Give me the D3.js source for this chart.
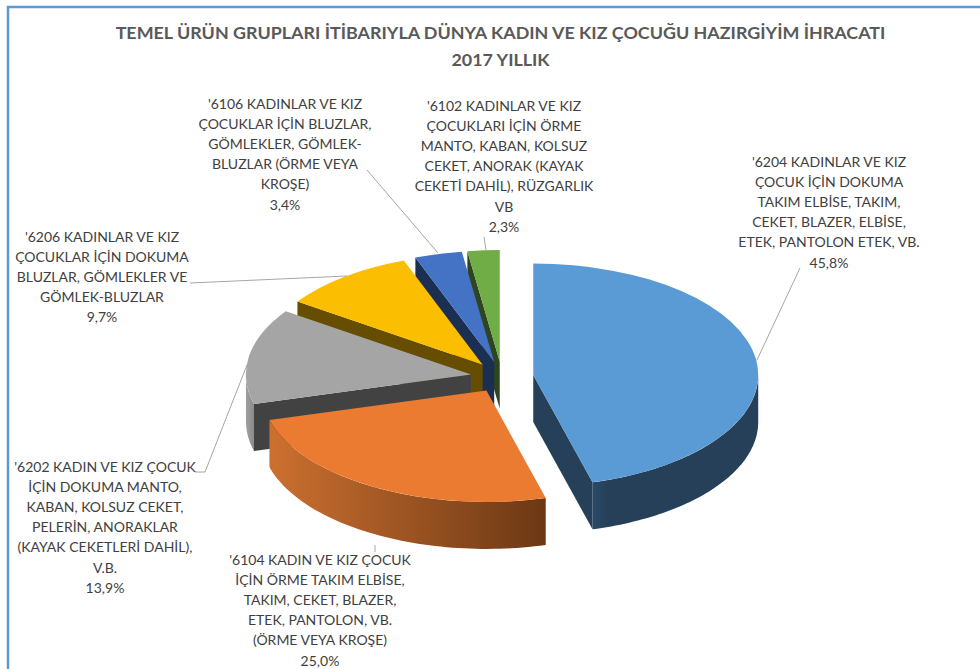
<!DOCTYPE html>
<html>
<head>
<meta charset="utf-8">
<script src="https://cdnjs.cloudflare.com/ajax/libs/d3/7.8.5/d3.min.js"></script>
<style>
    html, body { margin: 0; padding: 0; background: #fff; }
    svg { display: block; }
    text { font-family: Lato, "Open Sans", sans-serif; }
</style>
</head>
<body>
<svg width="980" height="669"></svg>
<script>
// Chart data, slice order clockwise from 12 o'clock
var codes = ['6204', '6104', '6202', '6206', '6106', '6102'];
var shares = [45.8, 25.0, 13.9, 9.7, 3.4, 2.3];
var shareLabels = ['45,8%', '25,0%', '13,9%', '9,7%', '3,4%', '2,3%'];
var labelLines = [
    ["'6204 KADINLAR VE KIZ", 'ÇOCUK İÇİN DOKUMA', 'TAKIM ELBİSE, TAKIM,', 'CEKET, BLAZER, ELBİSE,', 'ETEK, PANTOLON ETEK, VB.'],
    ["'6104 KADIN VE KIZ ÇOCUK", 'İÇİN ÖRME TAKIM ELBİSE,', 'TAKIM, CEKET, BLAZER,', 'ETEK, PANTOLON, VB.', '(ÖRME VEYA KROŞE)'],
    ["'6202 KADIN VE KIZ ÇOCUK", 'İÇİN DOKUMA MANTO,', 'KABAN, KOLSUZ CEKET,', 'PELERİN, ANORAKLAR', '(KAYAK CEKETLERİ DAHİL),', 'V.B.'],
    ["'6206 KADINLAR VE KIZ", 'ÇOCUKLAR İÇİN DOKUMA', 'BLUZLAR, GÖMLEKLER VE', 'GÖMLEK-BLUZLAR'],
    ["'6106 KADINLAR VE KIZ", 'ÇOCUKLAR İÇİN BLUZLAR,', 'GÖMLEKLER, GÖMLEK-', 'BLUZLAR (ÖRME VEYA', 'KROŞE)'],
    ["'6102 KADINLAR VE KIZ", 'ÇOCUKLARI İÇİN ÖRME', 'MANTO, KABAN, KOLSUZ', 'CEKET, ANORAK (KAYAK', 'CEKETİ DAHİL), RÜZGARLIK', 'VB']
];
var titleLines = ['TEMEL ÜRÜN GRUPLARI İTİBARIYLA DÜNYA KADIN VE KIZ ÇOCUĞU HAZIRGİYİM İHRACATI', '2017 YILLIK'];

// Colours per slice: top face and the dark walls
var topColors = ['#5B9BD5', '#EA7B30', '#A5A5A5', '#FCBE00', '#4472C4', '#70AD47'];
var wallColors = ['#254058', '#8A4A1C', '#424242', '#664D00', '#1B2F52', '#2D4520'];

// Label block centres and first baselines, and the leader lines
var labelX = [829, 320, 105, 102, 285, 504];
var labelY = [167, 565, 472, 242, 109, 111];
var leaders = [
    [[757, 360], [800, 268]],
    [[375, 545], [375, 552]],
    [[247, 365], [205, 472], [195, 472]],
    [[347, 276], [190, 283]],
    [[438, 253], [367, 170]],
    [[486, 250], [484, 237]]
];

var svg = d3.select('svg');

// Pie geometry: tilted disc with each slice pulled out from the centre
var center = {x: 502, y: 377};
var radius = 225;
var tilt = 0.495;
var depth = 47;
var explode = 31.5;

var slices = d3.pie().sort(null)(shares);
var arc = d3.arc().innerRadius(0).outerRadius(radius);

function project(angle, r) {
    return [r * Math.sin(angle), -r * Math.cos(angle) * tilt];
}

slices.forEach(function(s) {
    var mid = (s.startAngle + s.endAngle) / 2;
    var p = project(mid, explode);
    s.cx = center.x + p[0];
    s.cy = center.y + p[1];
});

var defs = svg.append('defs');

// Horizontal shading on the rim, x values are relative to the slice's own centre
function addRimGradient(id, x1, x2, c1, c2) {
    var grad = defs.append('linearGradient')
        .attr('id', id)
        .attr('gradientUnits', 'userSpaceOnUse')
        .attr('x1', x1).attr('x2', x2).attr('y1', 0).attr('y2', 0);
    grad.append('stop').attr('offset', 0).attr('stop-color', c1);
    grad.append('stop').attr('offset', 1).attr('stop-color', c2);
}
addRimGradient('rim0', 59, 75, '#2B4A68', '#254058');
addRimGradient('rim1', -217, 59, '#CC7030', '#6C3814');
addRimGradient('rim2', -225, -215, '#A0A0A0', '#858585');

// Frame: only the top and left edges fall inside the picture
svg.append('path')
    .attr('d', 'M8,669V7H980')
    .attr('fill', 'none')
    .attr('stroke', '#5B9BD5')
    .attr('stroke-width', 2.5);

var pieG = svg.append('g');

// Paint back to front
[5, 4, 3, 2, 1, 0].forEach(function(i) {
    var s = slices[i];
    var g = pieG.append('g').attr('transform', 'translate(' + [s.cx, s.cy] + ')');

    // Straight walls that face the viewer
    [s.startAngle, s.endAngle].forEach(function(a, k) {
        var facing = k === 0 ? Math.sin(a) < 0 : Math.sin(a) > 0;
        if (!facing) return;
        var p = project(a, radius);
        g.append('path')
            .attr('d', d3.line()([[0, 0], p, [p[0], p[1] + depth], [0, depth]]))
            .attr('fill', wallColors[i]);
    });

    // Outer wall, only the front half of the rim
    var a0 = Math.max(s.startAngle, Math.PI / 2);
    var a1 = Math.min(s.endAngle, Math.PI * 1.5);
    if (a1 > a0) {
        var rim = d3.range(0, 61).map(function(k) {
            return project(a0 + (a1 - a0) * k / 60, radius);
        });
        var lower = rim.map(function(p) { return [p[0], p[1] + depth]; }).reverse();
        g.append('path')
            .attr('d', d3.line()(rim.concat(lower)))
            .attr('fill', i < 3 ? 'url(#rim' + i + ')' : wallColors[i]);
    }

    // Top face
    g.append('path')
        .attr('transform', 'scale(1,' + tilt + ')')
        .attr('d', arc(s))
        .attr('fill', topColors[i]);
});

// Leader lines
svg.selectAll('.leader')
    .data(leaders)
    .enter().append('path')
    .attr('class', 'leader')
    .attr('d', function(d) { return d3.line()(d); })
    .attr('fill', 'none')
    .attr('stroke', '#A6A6A6')
    .attr('stroke-width', 1);

// Title
svg.selectAll('.title')
    .data(titleLines)
    .enter().append('text')
    .attr('class', 'title')
    .attr('x', 500.5)
    .attr('y', function(d, i) { return 39 + i * 27; })
    .attr('text-anchor', 'middle')
    .attr('font-size', 17.9)
    .attr('font-weight', 700)
    .attr('fill', '#595959')
    .text(function(d) { return d; });

// Data labels
codes.forEach(function(code, i) {
    var lines = labelLines[i].concat([shareLabels[i]]);
    svg.append('text')
        .attr('class', 'label label-' + code)
        .attr('text-anchor', 'middle')
        .attr('font-size', 14)
        .attr('fill', '#404040')
        .selectAll('tspan')
        .data(lines)
        .enter().append('tspan')
        .attr('x', labelX[i])
        .attr('y', function(d, k) { return labelY[i] + k * 20.1; })
        .text(function(d) { return d; });
});
</script>
</body>
</html>
